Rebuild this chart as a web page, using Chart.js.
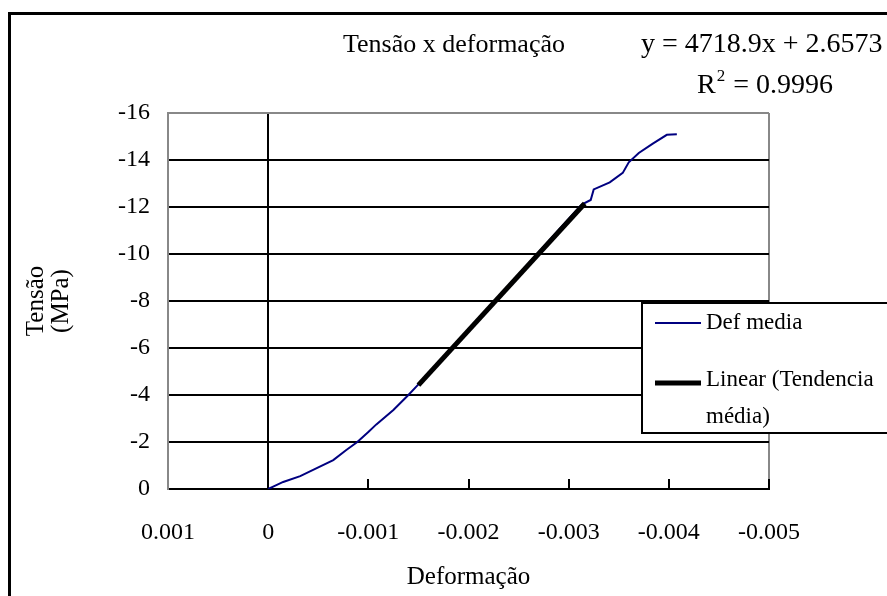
<!DOCTYPE html>
<html>
<head>
<meta charset="utf-8">
<title>Tensão x deformação</title>
<script src="https://cdn.jsdelivr.net/npm/chart.js@4.4.1/dist/chart.umd.min.js"></script>
<style>
  body { margin: 0; background: #fff; }
  canvas { display: block; }
</style>
</head>
<body>
<canvas id="chart-tensao" width="887" height="596"></canvas>
<script>
// tick values of both axes
const xTicks = [0.001, 0, -0.001, -0.002, -0.003, -0.004, -0.005];
const yTicks = [0, -2, -4, -6, -8, -10, -12, -14, -16];

// Def media (deformation, stress)
const defMediaX = [0, -0.00005, -0.00015, -0.00032, -0.00049, -0.00065, -0.00078, -0.00089,
  -0.0010, -0.00108, -0.00125, -0.0014, -0.0015, -0.0018, -0.0022, -0.0026, -0.0029,
  -0.00313, -0.00322, -0.00325, -0.00341, -0.00354, -0.0036, -0.0037, -0.00384, -0.00398, -0.00408];
const defMediaY = [0, -0.1, -0.3, -0.55, -0.9, -1.23, -1.66, -2.0,
  -2.43, -2.75, -3.36, -4.0, -4.45, -5.85, -7.72, -9.6, -11.03,
  -12.1, -12.3, -12.75, -13.05, -13.45, -13.9, -14.3, -14.7, -15.07, -15.1];

// Linear trend line end points
const trendX = [-0.0015, -0.00316];
const trendY = [-4.42, -12.15];

const titleText = "Tensão x deformação";
const equationText = "y = 4718.9x + 2.6573";
const r2Value = "0.9996";

const serif = "'Liberation Serif', 'Times New Roman', serif";

function toPoints(xs, ys) {
  return xs.map((x, i) => ({ x: x, y: ys[i] }));
}

// frame, title, equation and the boxed legend
const decorPlugin = {
  id: "decor",
  afterDraw(chart) {
    const ctx = chart.ctx;
    ctx.save();

    // outer frame (only top and left are inside the picture)
    ctx.strokeStyle = "#000";
    ctx.lineWidth = 3;
    ctx.strokeRect(9.5, 13.5, 1000, 1000);

    ctx.fillStyle = "#000";
    ctx.textBaseline = "middle";
    ctx.font = "26px " + serif;
    ctx.textAlign = "center";
    ctx.fillText(titleText, 454, 45);
    ctx.textAlign = "left";
    ctx.font = "28px " + serif;
    ctx.fillText(equationText, 641, 45);

    // R² = ...
    let x = 697;
    ctx.fillText("R", x, 86);
    x += ctx.measureText("R").width;
    ctx.font = "17px " + serif;
    ctx.fillText("2", x + 1, 77);
    x += ctx.measureText("2").width + 2;
    ctx.font = "28px " + serif;
    ctx.fillText(" = " + r2Value, x, 86);

    // legend box
    const box = { left: 642, top: 303, bottom: 433 };
    ctx.fillStyle = "#fff";
    ctx.fillRect(box.left, box.top, 300, box.bottom - box.top);
    ctx.strokeStyle = "#000";
    ctx.lineWidth = 2;
    ctx.strokeRect(box.left, box.top, 300, box.bottom - box.top);

    ctx.font = "23px " + serif;
    const maxW = chart.width - 706 - 2;
    let y = 323;
    chart.data.datasets.forEach((ds) => {
      ctx.strokeStyle = ds.borderColor;
      ctx.lineWidth = ds.borderWidth;
      ctx.beginPath();
      ctx.moveTo(655, y + (ds.borderWidth > 3 ? 3 : 0));
      ctx.lineTo(701, y + (ds.borderWidth > 3 ? 3 : 0));
      ctx.stroke();

      // simple word wrap
      const words = ds.label.split(" ");
      const lines = [];
      let line = "";
      words.forEach((w) => {
        const test = line ? line + " " + w : w;
        if (ctx.measureText(test).width > maxW && line) {
          lines.push(line);
          line = w;
        } else {
          line = test;
        }
      });
      lines.push(line);
      ctx.fillStyle = "#000";
      lines.forEach((l, i) => ctx.fillText(l, 706, y + i * 37));
      y += 57;
    });

    ctx.restore();
  },
};

const ctxTensao = document.getElementById("chart-tensao");
new Chart(ctxTensao, {
  type: "line",
  data: {
    datasets: [
      {
        label: "Def media",
        data: toPoints(defMediaX, defMediaY),
        borderColor: "#000080",
        backgroundColor: "#000080",
        borderWidth: 2,
        pointRadius: 0,
        tension: 0,
        order: 1,
      },
      {
        label: "Linear (Tendencia média)",
        data: toPoints(trendX, trendY),
        borderColor: "#000",
        backgroundColor: "#000",
        borderWidth: 5,
        pointRadius: 0,
        tension: 0,
        order: 0,
      },
    ],
  },
  options: {
    responsive: false,
    animation: false,
    layout: { padding: { top: 113, right: 118, left: 0, bottom: 0 } },
    plugins: {
      legend: { display: false },
      title: { display: false },
      tooltip: { enabled: false },
    },
    scales: {
      x: {
        type: "linear",
        min: -0.005,
        max: 0.001,
        reverse: true,
        afterBuildTicks: (scale) => {
          scale.ticks = xTicks.map((v) => ({ value: v }));
        },
        afterFit: (scale) => {
          scale.height = 107;
        },
        ticks: {
          color: "#000",
          font: { family: serif, size: 24, lineHeight: 1 },
          padding: 42,
          maxRotation: 0,
          autoSkip: false,
          callback: (v) => (v === 0 ? "0" : v.toFixed(3)),
        },
        grid: {
          drawTicks: true,
          tickLength: -10,
          lineWidth: 2,
          tickWidth: 2,
          tickColor: "#000",
          color: (c) => {
            if (!c.tick) return "rgba(0,0,0,0)";
            if (c.tick.value === 0) return "#000";
            if (c.tick.value === -0.005) return "#888";
            return "rgba(0,0,0,0)";
          },
        },
        border: { display: true, color: "#000", width: 2 },
        title: {
          display: true,
          text: "Deformação",
          color: "#000",
          font: { family: serif, size: 25, lineHeight: 1 },
          padding: { top: 0, bottom: 6.5 },
        },
      },
      y: {
        type: "linear",
        min: -16,
        max: 0,
        reverse: true,
        afterBuildTicks: (scale) => {
          scale.ticks = yTicks.map((v) => ({ value: v }));
        },
        afterFit: (scale) => {
          scale.width = 168;
        },
        ticks: {
          color: "#000",
          font: { family: serif, size: 24, lineHeight: 1 },
          padding: 18,
          autoSkip: false,
          callback: (v) => String(v),
        },
        grid: {
          drawTicks: false,
          lineWidth: 2,
          color: (c) => (c.tick && c.tick.value === -16 ? "#888" : "#000"),
        },
        border: { display: true, color: "#888", width: 2 },
        title: {
          display: true,
          text: ["Tensão", "(MPa)"],
          color: "#000",
          font: { family: serif, size: 25, lineHeight: 1 },
          padding: { top: 23.5, bottom: 0 },
        },
      },
    },
  },
  plugins: [decorPlugin],
});
</script>
</body>
</html>
